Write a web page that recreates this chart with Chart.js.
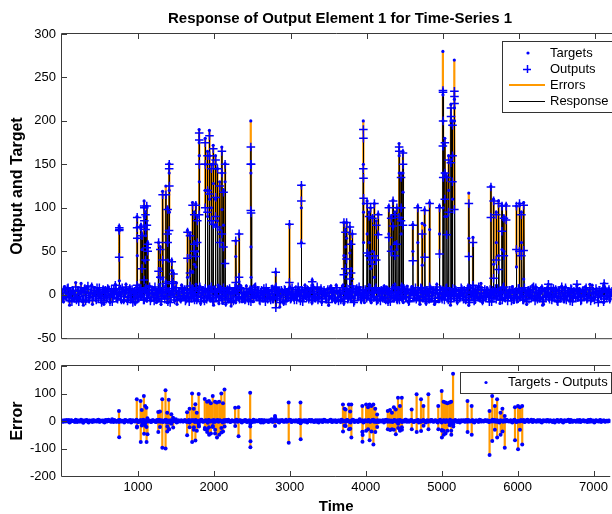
<!DOCTYPE html>
<html><head><meta charset="utf-8">
<script src="https://cdn.jsdelivr.net/npm/chart.js@4.4.0/dist/chart.umd.min.js"></script>
<style>
html,body{margin:0;padding:0;background:#fff;width:612px;height:514px;overflow:hidden}
#top{position:absolute;left:0;top:0}
#bot{position:absolute;left:0;top:352px}
</style></head><body>
<canvas id="top" width="612" height="352"></canvas>
<canvas id="bot" width="612" height="162"></canvas>
<script>
// ---------------- data ----------------
const baseStep = 20; // time spacing of the background (non-spike) samples; B samples sit half a step later
const baseOutputs = [
3,-5,6,-2,8,-7,1,5,-4,9,-3,-8,4,2,-6,7,-1,10,-5,3,
-7,5,-2,8,-4,1,-9,6,3,-5,7,-3,2,-8,5,11,-4,0,6,-6,
4,-2,9,-7,3,-5,6,1,-8,5,-3,7,-1,4,-6,8,-4,2,-7,6,
-3,9,-5,2,7,-8,4,-1,6,-4,3,-9,5,1,-6,8,-2,4,-5,7,
2,-7,5,-3,10,-4,1,-6,8,-2,6,-8,3,-1,7,-5,4,-3,9,-6,
5,-1,3,-7,6,-4,8,-2,1,-5,7,-9,4,2,-6,5,-3,8,-4,1,
-6,7,-2,4,-8,6,-3,9,-1,3,-7,5,-4,2,8,-5,1,-6,4,-2,
7,-4,3,-9,5,-1,6,-7,2,4,-5,8,-3,1,-6,9,-2,5,-8,3,
-1,6,-5,2,-7,8,-3,4,-6,1,7,-4,5,-2,3,-9,6,-1,4,-5,
8,-3,2,-6,5,-8,1,7,-4,3,-2,6,-7,4,-1,9,-5,2,-3,6,
-4,1,7,-6,3,-2,8,-5,4,-7,2,6,-3,5,-8,1,-1,7,-4,3,
-6,4,-2,9,-5,2,-3,6,-7,1,5,-4,8,-1,3,-6,7,-2,4,-8,
2,-5,6,-1,3,-7,9,-4,1,-3,5,-6,7,-2,4,-8,3,-1,6,-5,
1,-4,8,-2,5,-6,3,-9,7,-1,4,-5,2,6,-3,8,-7,1,-2,5,
-3,6,-8,2,4,-5,7,-1,3,-6,9,-4,1,-2,5,-7,6,-3,2,-4,
7,-2,4,-6,1,-8,5,3,-4,6,-1,8,-5,2,-3,7,-6,4,-1,3,
-5,8,-3,1,6,-7,2,-4,9,-2,5,-6,3,-1,7,-8,4,-3,6,-2,
3,-6,5,-1,8,-4,2,-7,6,-3,1,4,-9,5,-2,7,-5,3,-1,6,
-2,4];
const baseErrors = [
2,-3,1,4,-2,-5,3,0,-1,5,-4,2,-2,3,-6,1,4,-3,2,-1,
-4,3,1,-2,5,-3,0,2,-5,4,-1,3,-2,6,-4,1,-3,2,4,-2,
1,-5,3,-1,2,4,-3,1,-2,5,-4,0,3,-6,2,-1,4,-2,1,-3,
3,-1,-4,2,5,-3,1,-2,4,-5,2,1,-3,3,-1,6,-4,2,-2,1,
-2,4,-3,1,-5,3,2,-1,4,-4,1,-2,5,-3,0,2,-6,3,-1,2,
4,-2,1,-3,3,-1,-5,2,4,-2,1,-4,3,0,-3,5,-1,2,-4,1,
-1,3,-4,2,1,-2,5,-3,2,-1,4,-5,1,3,-2,2,-4,1,6,-3,
2,-1,3,-5,1,4,-2,0,-3,2,5,-4,1,-1,3,-2,4,-6,2,1,
-3,2,-1,4,-2,1,-4,3,2,-5,1,3,-2,4,-1,-3,2,5,-4,1,
3,-4,2,-1,5,-2,1,-3,4,-1,-5,2,3,-2,1,-4,6,-1,2,-3,
1,-2,4,-3,2,5,-1,-4,3,1,-2,2,-5,4,-1,3,-3,1,-2,4,
-2,3,-1,2,-4,1,5,-3,2,-1,4,-2,-3,1,3,-5,2,-1,4,-2,
1,-3,2,4,-1,-2,3,-4,1,5,-3,2,-1,3,-2,-4,2,1,-3,4,
-1,2,-5,3,1,-2,4,-3,2,-1,3,-4,1,2,-3,5,-2,1,-1,3,
2,-4,1,-2,3,4,-3,1,-5,2,-1,3,-2,4,-1,1,-3,2,5,-4,
-2,1,3,-1,4,-3,2,-2,1,5,-4,1,-1,3,-2,2,-5,3,1,-2,
3,-2,1,-4,2,-1,4,-3,1,2,-5,3,-1,2,-2,4,-3,1,-1,2,
-3,4,-1,2,-2,1,-4,3,5,-2,1,-3,2,-1,3,-4,1,2,-2,1,
2,-1];
const baseOutputsB = [
-4,6,-1,7,-3,2,-8,4,0,-6,5,-2,8,-5,3,-7,6,-3,1,9,
-2,5,-6,3,8,-4,2,-7,5,-1,4,-8,6,-3,1,7,-5,3,-2,8,
-6,2,5,-3,7,-1,-9,4,2,-5,8,-2,3,-6,6,-4,1,9,-3,5,
-7,3,1,-4,6,-2,8,-5,2,-8,4,-1,7,-3,5,-6,2,-4,8,-1,
6,-5,2,-8,3,7,-2,4,-6,1,9,-3,5,-7,2,-1,6,-4,3,-8,
4,-3,7,-1,5,-6,2,-9,6,3,-4,1,-7,8,-2,4,-5,7,-3,2,
-5,3,-7,6,1,-4,8,-2,5,-6,3,-1,7,-8,2,4,-3,6,-5,1,
9,-2,4,-6,3,-8,5,1,-3,7,-4,2,-6,6,-1,3,-7,5,-2,8,
-3,5,-1,7,-6,2,-4,9,-2,4,-8,3,1,-5,6,-2,7,-4,2,-6,
5,-7,3,-2,8,-4,1,-5,6,-3,2,-9,4,7,-1,5,-6,3,-4,2,
-1,8,-5,3,-3,6,-7,2,-2,5,-4,7,-6,1,4,-8,2,-3,9,-1,
3,-6,1,-4,7,-2,5,-8,3,6,-1,4,-5,2,-7,8,-3,1,-6,5,
-2,7,-4,3,-8,5,1,-3,6,-5,2,-1,8,-6,3,-4,7,-2,5,-7,
4,-1,6,-5,2,-3,8,-6,1,3,-7,5,-2,9,-4,2,-5,6,-1,3,
-8,2,5,-4,7,-2,3,-6,1,8,-3,4,-7,5,-1,6,-4,2,-5,7,
-3,4,-6,8,-1,2,-5,6,-2,9,-7,3,1,-4,5,-8,4,-2,6,-3,
1,-6,7,-3,4,-8,5,-2,3,-5,8,-1,2,-7,6,-4,1,5,-3,4,
-7,3,-2,6,-5,1,8,-4,2,-6,7,-3,5,-1,3,-8,6,-2,4,-5,
2];
const baseErrorsB = [
-1,3,-2,1,4,-3,2,-1,-4,3,1,-2,5,-3,2,-1,3,-5,1,2,
3,-2,-1,4,-3,2,1,-4,3,-2,5,-1,-3,2,4,-2,1,-3,2,-1,
-2,4,1,-3,2,-5,3,1,-1,2,-4,3,-2,5,-1,-3,2,1,-4,3,
1,-3,4,-2,-1,3,-4,2,5,-1,-2,3,-3,1,4,-5,2,-1,3,-2,
2,-1,-3,4,-2,1,3,-4,2,-3,1,5,-2,-1,3,-3,4,-2,1,-4,
-3,2,4,-1,1,-4,3,-2,2,5,-3,1,-1,-2,4,-3,2,3,-5,1,
4,-3,1,2,-2,-4,3,1,-1,2,-3,4,-5,2,1,-2,3,-1,-3,5,
-1,2,-4,3,1,-2,-3,5,-1,2,4,-3,2,-2,1,-4,3,1,-2,3,
2,-5,3,-1,4,-2,1,-3,2,3,-1,-4,5,-2,1,-1,3,-3,2,-2,
-3,1,2,-4,3,1,-2,4,-1,-3,2,5,-4,1,-2,3,-1,2,-5,3,
1,3,-2,-1,4,-3,2,1,-4,2,-1,3,-2,5,-3,1,2,-4,3,-1,
-2,1,4,-3,1,-2,5,-1,-3,3,2,-4,1,-1,4,-2,-3,2,1,-5,
3,-1,-2,4,-3,2,1,-5,2,1,-2,3,-4,2,-1,5,-3,1,2,-2,
-4,2,1,-1,3,-3,2,4,-2,-1,3,-5,2,1,-3,4,-1,-2,3,-1,
2,-3,1,5,-2,-1,3,-4,2,1,-3,2,4,-1,-2,3,-5,2,1,-3,
1,-2,3,-1,-4,2,5,-3,1,-2,4,-1,-3,2,3,-4,1,-1,2,4,
-2,3,-1,2,-5,1,3,-2,4,-3,1,-1,2,5,-4,2,-2,1,-3,3,
2,-4,1,3,-1,-2,4,-3,1,2,-5,3,-1,-2,4,-1,2,-3,1,-2,
1];
// spike events: start time, then consecutive targets / outputs (one time step apart)
const spikeTimes = [750,985,1035,1050,1078,1095,1112,1125,1267,1290,1320,1363,1385,1406,1440,1463,1647,1680,1713,1735,1756,1775,1800,1880,1910,1935,1960,1985,2015,2040,2070,2098,2120,2140,2280,2324,2478,2805,2985,3141,3285,3700,3720,3735,3778,3795,3810,3955,4005,4030,4050,4075,4100,4125,4150,4290,4320,4345,4370,4395,4425,4450,4475,4605,4670,4728,4760,4825,4955,5000,5025,5050,5075,5105,5125,5150,5340,5395,5630,5665,5700,5730,5775,5800,5830,5965,6005,6030,6060,6385,6760,7117];
const spikeTargets = [[79,77,74,16],[90,78,65,45],[80,76,2],[70,52],[108,100,90,39],[95,75,68],[102,80,4],[60,10],[60,20],[55,30],[119,18],[125,15],[100,60,40],[151,140,120,95],[40,28],[25,0],[74,20],[70,45],[106,27],[95,60,35],[105,32],[90,50],[190,175,160,130],[180,150,120],[165,120,90],[189,160,110],[150,100],[172,150,128],[160,110,80],[145,85],[130,75],[170,140,98],[120,80],[151,130],[62,44],[70,15],[200,150,140,55,20],[26,8,-3],[81,2],[126,100,60],[17],[83,45],[75,55],[83,65],[78,48],[60,30],[70,10],[200,150,105,95,60],[108,70],[95,60],[100,30],[90,50],[105,20],[85,40],[93,70],[102,70],[90,55],[109,78],[95,60],[100,52],[174,160,140],[140,100,70],[165,140,118],[81,50],[102,60],[82,34],[98,80],[106,75],[102,70],[280,230,200,140,100],[180,140,90],[136,90],[160,120],[219,200,195],[200,160,110],[270,225,215,200],[117,65],[66,10],[125,0],[110,35],[95,60],[108,45],[103,52],[90,50],[104,5],[102,32],[105,2],[95,60],[106,18],[12],[11],[13]];
const spikeOutputs = [[43,74,77,75],[11,77,89,65],[7,78,78],[30,68],[17,102,100,85],[40,92,75],[54,102,80],[50,58],[27,60],[20,52],[40,115],[13,115],[70,98,60],[74,145,150,125],[15,38],[13,24],[42,72],[25,68],[6,103],[50,92,58],[44,103],[60,85],[92,186,178,150],[100,175,150],[95,160,120],[116,183,160],[85,145],[81,168,150],[90,155,112],[78,145],[60,125],[70,165,140],[55,118],[36,150],[14,62],[20,70],[97,170,150,150,94],[8,26,-15],[14,81],[59,108,126],[15],[23,83],[30,72],[41,83],[18,78],[25,58],[10,70],[145,190,180,134,111],[48,105],[45,90],[40,100],[35,88],[45,105],[40,80],[69,92],[66,100],[50,88],[79,108],[45,92],[58,100],[89,170,165],[85,135,100],[80,163,150],[39,80],[5,100],[3,70],[43,97],[9,105],[47,100],[171,235,233,200,135],[110,175,140],[69,135],[95,155],[152,215,205],[130,195,160],[98,234,228,220],[44,105],[11,60],[89,124],[19,108],[40,92],[29,105],[73,102],[45,88],[86,102],[52,102],[50,105],[45,92],[51,103],[12],[12],[13]];
const xTicks = [1000,2000,3000,4000,5000,6000,7000];
const yTicksTop = [-50,0,50,100,150,200,250,300];
const yTicksErr = [-200,-100,0,100,200];

// ---------------- build ----------------
const pts = [];
baseOutputs.forEach((o,i)=>pts.push({t:i*baseStep, o:o, tg:o+baseErrors[i]}));
baseOutputsB.forEach((o,i)=>pts.push({t:i*baseStep+baseStep/2, o:o, tg:o+baseErrorsB[i]}));
spikeTimes.forEach((t0,k)=>spikeTargets[k].forEach((tg,j)=>pts.push({t:t0+j, tg:tg, o:spikeOutputs[k][j]})));
pts.sort((a,b)=>a.t-b.t);

const BLUE='rgb(0,0,255)', ORANGE='rgb(255,153,0)';
const targetPts = pts.map(p=>({x:p.t,y:p.tg}));
const outputPts = pts.map(p=>({x:p.t,y:p.o}));
const errSegTop = [];
pts.forEach(p=>{ if(p.tg!==p.o){ errSegTop.push({x:p.t,y:p.o},{x:p.t,y:p.tg},{x:p.t,y:null}); }});
const errPts = pts.map(p=>({x:p.t,y:p.tg-p.o}));
const errStems = [];
pts.forEach(p=>{ const e=p.tg-p.o; if(e!==0){ errStems.push({x:p.t,y:0},{x:p.t,y:e},{x:p.t,y:null}); }});

Chart.defaults.font.family = "'Liberation Sans', Arial, Helvetica, sans-serif";
Chart.defaults.color = '#000';

const frame = {
  id:'frame',
  afterDatasetsDraw(chart){
    const {ctx, chartArea:a, scales} = chart;
    ctx.save();
    ctx.strokeStyle = '#3a3a3a'; ctx.lineWidth = 1;
    ctx.beginPath();
    ctx.moveTo(a.left-0.5, a.bottom+0.5); ctx.lineTo(a.left-0.5, a.top-0.5); ctx.lineTo(a.right, a.top-0.5);
    ctx.moveTo(a.left-0.5, a.bottom+0.5); ctx.lineTo(a.right, a.bottom+0.5);
    const xs = scales.x;
    xs.ticks.forEach(tk=>{ const px=Math.round(xs.getPixelForValue(tk.value))+0.5;
      ctx.moveTo(px,a.bottom); ctx.lineTo(px,a.bottom-5); ctx.moveTo(px,a.top); ctx.lineTo(px,a.top+5); });
    const ys = scales.y;
    ys.ticks.forEach(tk=>{ const py=Math.round(ys.getPixelForValue(tk.value))+0.5;
      ctx.moveTo(a.left,py); ctx.lineTo(a.left+5,py); });
    ctx.stroke();
    ctx.restore();
  }
};
const legendBox = {
  id:'legendBox',
  afterDraw(chart, args, o){
    if(!o || !o.items) return;
    const ctx = chart.ctx;
    ctx.save();
    ctx.fillStyle='#fff'; ctx.fillRect(o.x,o.y,o.w,o.h);
    ctx.strokeStyle='#333'; ctx.lineWidth=1; ctx.strokeRect(o.x+0.5,o.y+0.5,o.w,o.h);
    ctx.font = "13px 'Liberation Sans', Arial, sans-serif";
    ctx.textBaseline='middle'; ctx.textAlign='left';
    o.items.forEach(it=>{
      const ds = chart.data.datasets[it.ds];
      if(it.kind==='dot'){ ctx.fillStyle=BLUE; ctx.beginPath(); ctx.arc(it.sx,it.y,1.6,0,Math.PI*2); ctx.fill(); }
      else if(it.kind==='plus'){ ctx.strokeStyle=BLUE; ctx.lineWidth=1.5; ctx.beginPath();
        ctx.moveTo(it.sx-4,it.y+0.5); ctx.lineTo(it.sx+4,it.y+0.5); ctx.moveTo(it.sx+0.5,it.y-4); ctx.lineTo(it.sx+0.5,it.y+4); ctx.stroke(); }
      else { ctx.strokeStyle=it.color; ctx.lineWidth=it.lw; ctx.beginPath(); ctx.moveTo(it.x0,it.y); ctx.lineTo(it.x1,it.y); ctx.stroke(); }
      ctx.fillStyle='#000'; ctx.fillText(ds.label, it.tx, it.y);
    });
    ctx.restore();
  }
};
const titlePlug = {
  id:'titlePlug',
  afterDraw(chart, args, o){
    if(!o || !o.text) return;
    const ctx=chart.ctx; ctx.save();
    ctx.font="bold 15px 'Liberation Sans', Arial, sans-serif"; ctx.fillStyle='#000';
    ctx.textAlign='center'; ctx.textBaseline='middle'; ctx.fillText(o.text,o.x,o.y); ctx.restore();
  }
};

function xScale(showLabels){
  return { type:'linear', min:0, max:7220,
    afterBuildTicks:s=>{ s.ticks = xTicks.map(v=>({value:v})); },
    afterFit:s=>{ s.height = showLabels?38:10; },
    grid:{display:false, drawTicks:false}, border:{display:false},
    ticks:{display:showLabels, padding:4, font:{size:13}, maxRotation:0, autoSkip:false, callback:v=>String(v)},
    title:{display:showLabels, text:'Time', font:{size:15, weight:'bold', lineHeight:1}, padding:{top:0,bottom:0}}
  };
}
function yScale(min,max,ticks,title,tsize){
  return { type:'linear', min:min, max:max,
    afterBuildTicks:s=>{ s.ticks = ticks.map(v=>({value:v})); },
    afterFit:s=>{ s.width = 62; },
    grid:{display:false, drawTicks:false}, border:{display:false},
    ticks:{padding:6, font:{size:13}, callback:v=>String(v)},
    title:{display:true, text:title, font:{size:tsize, weight:'bold', lineHeight:1.2}, padding:{top:8,bottom:0}}
  };
}
const common = {responsive:false, animation:false, devicePixelRatio:1, events:[]};

new Chart(document.getElementById('top'), {
  type:'line',
  data:{datasets:[
    {label:'Targets', data:targetPts, showLine:false, pointRadius:1.6, pointBackgroundColor:BLUE, pointBorderWidth:0, order:1},
    {label:'Outputs', data:outputPts, showLine:false, pointStyle:'cross', pointRadius:4.3, pointBorderColor:BLUE, pointBorderWidth:1.5, order:0},
    {label:'Errors', data:errSegTop, borderColor:ORANGE, borderWidth:2.2, pointRadius:0, spanGaps:false, order:3},
    {label:'Response', data:outputPts, borderColor:'#000', borderWidth:1, pointRadius:0, order:2}
  ]},
  options:Object.assign({}, common, {
    layout:{autoPadding:false, padding:{top:34,left:0,right:0,bottom:0}},
    scales:{x:xScale(false), y:yScale(-50,300,yTicksTop,'Output and Target',16)},
    plugins:{legend:{display:false}, tooltip:{enabled:false},
      titlePlug:{text:'Response of Output Element 1 for Time-Series 1', x:340, y:19},
      legendBox:{x:502,y:41,w:110,h:71, items:[
        {ds:0, kind:'dot', sx:528, y:53, tx:550},
        {ds:1, kind:'plus', sx:527, y:69, tx:550},
        {ds:2, kind:'line', x0:509, x1:545, color:ORANGE, lw:2.2, y:85, tx:550},
        {ds:3, kind:'line', x0:509, x1:545, color:'#000', lw:1, y:101.5, tx:550}
      ]}
    }
  }),
  plugins:[frame, legendBox, titlePlug]
});

new Chart(document.getElementById('bot'), {
  type:'line',
  data:{datasets:[
    {label:'Targets - Outputs', data:errPts, showLine:false, pointRadius:2, pointBackgroundColor:BLUE, pointBorderWidth:0, order:0},
    {label:'Error stems', data:errStems, borderColor:ORANGE, borderWidth:2.2, pointRadius:0, spanGaps:false, order:1}
  ]},
  options:Object.assign({}, common, {
    layout:{autoPadding:false, padding:{top:14,left:0,right:0,bottom:0}},
    scales:{x:xScale(true), y:yScale(-200,200,yTicksErr,'Error',16)},
    plugins:{legend:{display:false}, tooltip:{enabled:false},
      legendBox:{x:460,y:20,w:151,h:21, items:[
        {ds:0, kind:'dot', sx:486, y:30.5, tx:508}
      ]}
    }
  }),
  plugins:[frame, legendBox]
});
</script></body></html>
